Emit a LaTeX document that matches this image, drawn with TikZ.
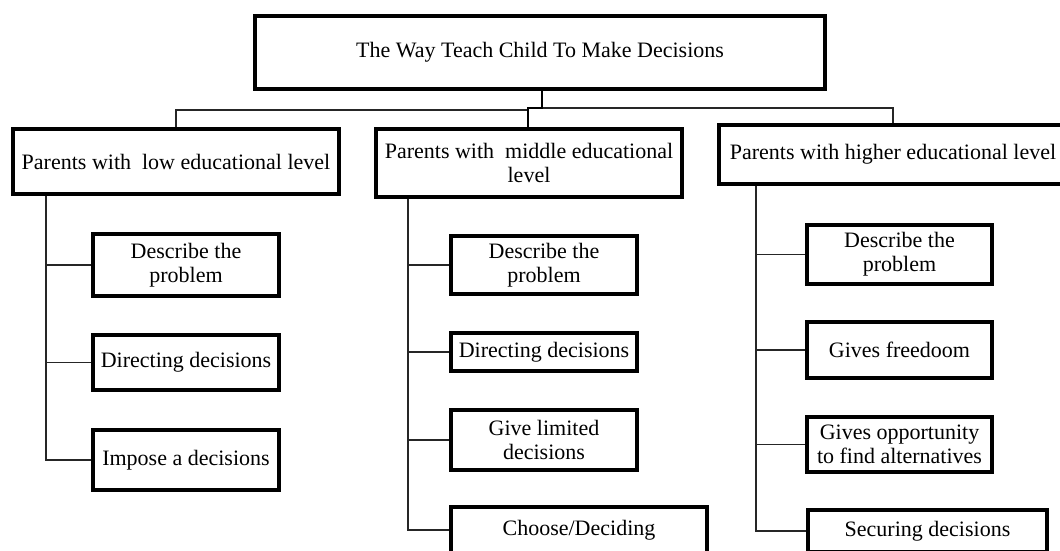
\documentclass[tikz,border=0pt]{standalone}
\usepackage{fontspec}
\setmainfont{Liberation Serif}
\begin{document}
\begin{tikzpicture}[x=1pt,y=-1pt,
  box/.style={draw=black,line width=3.2pt,align=center,inner sep=0pt,
    font=\fontsize{22}{24}\selectfont,fill=white},
  conn/.style={draw=black!85,line width=1.2pt},
  thk/.style={draw=black,line width=2.6pt}]
\useasboundingbox (0,0) rectangle (1060,550);
\clip (0,0) rectangle (1060,550);
% top
\node[box,minimum width=570pt,minimum height=73pt] (top) at (540,52.5) {The Way Teach Child To Make Decisions};
% level 1
\node[box,minimum width=326pt,minimum height=65pt] (low) at (176,161.5) {Parents with~ low educational level};
\node[box,minimum width=306pt,minimum height=68pt] (mid) at (529,163) {Parents with~ middle educational\\level};
\node[box,minimum width=348pt,minimum height=59pt] (hi) at (893,154.5) {Parents with higher educational level};
% low children
\node[box,minimum width=186pt,minimum height=62pt] (l1) at (186,265) {Describe the\\problem};
\node[box,minimum width=186pt,minimum height=55pt] (l2) at (186,362.5) {Directing decisions};
\node[box,minimum width=186pt,minimum height=60pt] (l3) at (186,460) {Impose a decisions};
% middle children
\node[box,minimum width=186pt,minimum height=58pt] (m1) at (544,265) {Describe the\\problem};
\node[box,minimum width=186pt,minimum height=38pt] (m2) at (544,352) {Directing decisions};
\node[box,minimum width=186pt,minimum height=60pt] (m3) at (544,440) {Give limited\\decisions};
\node[box,minimum width=256pt,minimum height=46pt] (m4) at (579,530) {Choose/Deciding};
% higher children
\node[box,minimum width=185pt,minimum height=59pt] (h1) at (899.5,254.5) {Describe the\\problem};
\node[box,minimum width=185pt,minimum height=56pt] (h2) at (899.5,350) {Gives freedoom};
\node[box,minimum width=185pt,minimum height=55pt] (h3) at (899.5,444.5) {Gives opportunity\\to find alternatives};
\node[box,minimum width=239pt,minimum height=42pt] (h4) at (927.5,531) {Securing decisions};
% top connectors
\coordinate (ja) at (542,108);
\coordinate (jb) at (528,110);
\draw[conn] (jb) -| (low.north);
\draw[conn] (ja) -| (hi.north);
\draw[thk] (top.south -| ja) -- (ja) -| (jb) -- (mid.north -| jb);
% spines
\coordinate (xL) at (46,0);
\coordinate (xM) at (408,0);
\coordinate (xH) at (756,0);
\draw[conn] (low.south -| xL) |- (l3.west);
\draw[conn] (l1.west -| xL) -- (l1.west);
\draw[conn] (l2.west -| xL) -- (l2.west);
\draw[conn] (mid.south -| xM) |- (m4.west);
\draw[conn] (m1.west -| xM) -- (m1.west);
\draw[conn] (m2.west -| xM) -- (m2.west);
\draw[conn] (m3.west -| xM) -- (m3.west);
\draw[conn] (hi.south -| xH) |- (h4.west);
\draw[conn] (h1.west -| xH) -- (h1.west);
\draw[conn] (h2.west -| xH) -- (h2.west);
\draw[conn] (h3.west -| xH) -- (h3.west);
\end{tikzpicture}
\end{document}
